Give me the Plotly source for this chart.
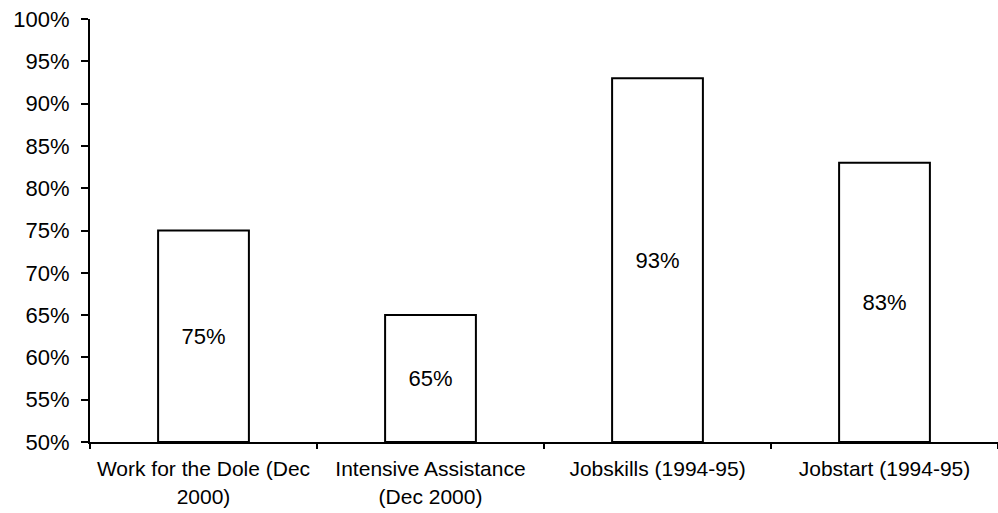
import plotly.graph_objects as go

categories = ["Work for the Dole (Dec<br>2000)", "Intensive Assistance<br>(Dec 2000)",
              "Jobskills (1994-95)", "Jobstart (1994-95)"]
values = [75, 65, 93, 83]
base_value = 50
y_ticks = list(range(50, 101, 5))

fig = go.Figure(go.Bar(
    x=categories,
    y=[v - base_value for v in values],
    base=[base_value] * len(values),
    text=[f"{v}%" for v in values],
    textposition="inside",
    insidetextanchor="middle",
    textfont=dict(family="Liberation Sans, Arial", size=22, color="black"),
    marker=dict(color="white", line=dict(color="black", width=2)),
    width=0.4,
))

fig.update_layout(
    width=998, height=513,
    margin=dict(l=90, r=0, t=19, b=71),
    plot_bgcolor="white", paper_bgcolor="white",
    font=dict(family="Liberation Sans, Arial", size=20, color="black"),
    showlegend=False,
    bargap=0.6,
)
fig.update_yaxes(
    range=[50, 100], tickvals=y_ticks, ticktext=[f"{t}%" for t in y_ticks],
    showgrid=False, zeroline=False, showline=True, linecolor="black", linewidth=2,
    ticks="outside", ticklen=7, tickwidth=2, tickcolor="black",
    tickfont=dict(size=22), ticklabelstandoff=7,
)
fig.update_xaxes(
    showgrid=False, showline=True, linecolor="black", linewidth=2,
    ticks="outside", tickson="boundaries", ticklen=5, tickwidth=2, tickcolor="black",
    tickfont=dict(size=21), ticklabelstandoff=7,
)

fig.write_html("out.html")
